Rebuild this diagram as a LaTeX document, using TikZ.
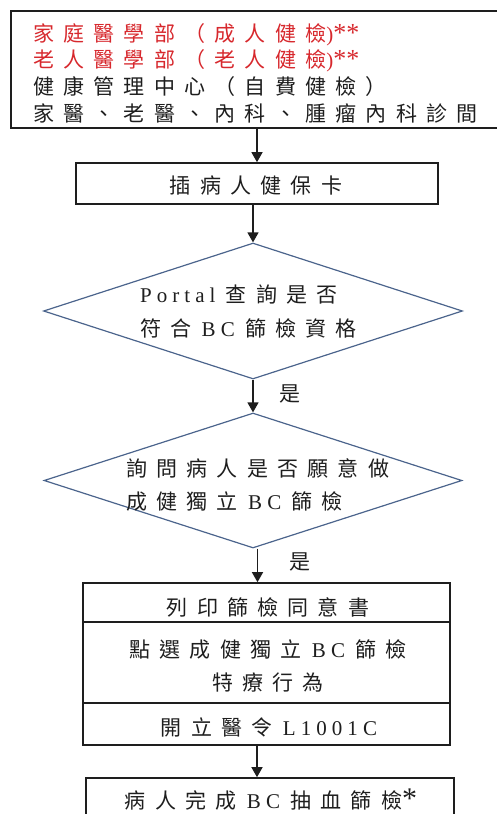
\documentclass[tikz,border=0pt]{standalone}
\usepackage{fontspec}
\setmainfont{Liberation Serif}[LetterSpace=24]
\newfontfamily\cjk{Noto Sans CJK TC}[LetterSpace=44]
\newfontfamily\plainserif{Liberation Serif}
\newcommand\zh[1]{{\cjk #1}}
\newcommand\stars[2]{{\plainserif\fontsize{#1}{#1}\selectfont #2}}
\usetikzlibrary{shapes.geometric,arrows.meta}
\definecolor{ink}{RGB}{30,30,30}
\definecolor{redtxt}{RGB}{215,40,45}
\definecolor{dia}{RGB}{75,100,140}
\begin{document}
\begin{tikzpicture}[x=1pt,y=-1pt,
  every node/.style={font=\fontsize{21}{26.7}\selectfont, text=ink, inner sep=0pt},
  box/.style={draw=ink, line width=1.6pt},
  dec/.style={diamond, draw=dia, line width=1.2pt},
  arr/.style={draw=ink, line width=1.3pt, -{Triangle[width=11pt,length=10pt]}},
  txt/.style={align=left},
  two/.style={align=left, font=\fontsize{21}{33.5}\selectfont}
]
\useasboundingbox (0,0) rectangle (497,814);
\clip (0,0) rectangle (497,814);
% frames
\node[box, minimum width=488pt, minimum height=117pt] (top) at (255,69.5) {};
\node[box, minimum width=362pt, minimum height=41pt] (card) at (257,183.5) {};
\node[dec, minimum width=419pt, minimum height=136pt] (q1) at (253,311) {};
\node[dec, minimum width=418pt, minimum height=135pt] (q2) at (253,480.5) {};
\node[box, minimum width=367pt, minimum height=39pt] (s1) at (266.5,602.5) {};
\node[box, minimum width=367pt, minimum height=81pt] (s2) at (266.5,662.5) {};
\node[box, minimum width=367pt, minimum height=42pt] (s3) at (266.5,724) {};
\node[box, minimum width=368pt, minimum height=60pt] (fin) at (270,808) {};
% texts
\node[txt, anchor=west] (toptext) at (33,73) {%
  {\color{redtxt}\zh{家庭醫學部（成人健檢}\stars{21}{)}\stars{26}{**}}\\
  {\color{redtxt}\zh{老人醫學部（老人健檢}\stars{21}{)}\stars{26}{**}}\\
  \zh{健康管理中心（自費健檢）}\\
  \zh{家醫、老醫、內科、腫瘤內科診間}};
\node (cardtext) at (256,186) {\zh{插病人健保卡}};
\node[two, anchor=west] (q1text) at (140,311.5) {Portal \zh{查詢是否}\\\zh{符合} BC \zh{篩檢資格}};
\node[two, anchor=west] (q2text) at (126,485) {\zh{詢問病人是否願意做}\\\zh{成健獨立} BC \zh{篩檢}};
\node (s1text) at (268,607) {\zh{列印篩檢同意書}};
\node[two, align=center] (s2text) at (268,666) {\zh{點選成健獨立} BC \zh{篩檢}\\\zh{特療行為}};
\node (s3text) at (269,727) {\zh{開立醫令} L1001C};
\node (fintext) at (271,800) {\zh{病人完成} BC \zh{抽血篩檢}\stars{30}{*}};
% connectors
\draw[arr] (top.south -| card.north) -- (card.north);
\draw[arr] (card.south -| q1.north) -- (q1.north);
\draw[arr] (q1.south) -- (q2.north) node[pos=0.45, right=26pt] (yes1) {\zh{是}};
\draw[arr] (q2.south -| s1.north) ++(-9,0) coordinate (d2) -- (d2 |- s1.north);
\node (yes2) at (300,562) {\zh{是}};
\draw[arr] (s3.south -| card.north) -- (card.north |- fin.north);
\end{tikzpicture}
\end{document}
